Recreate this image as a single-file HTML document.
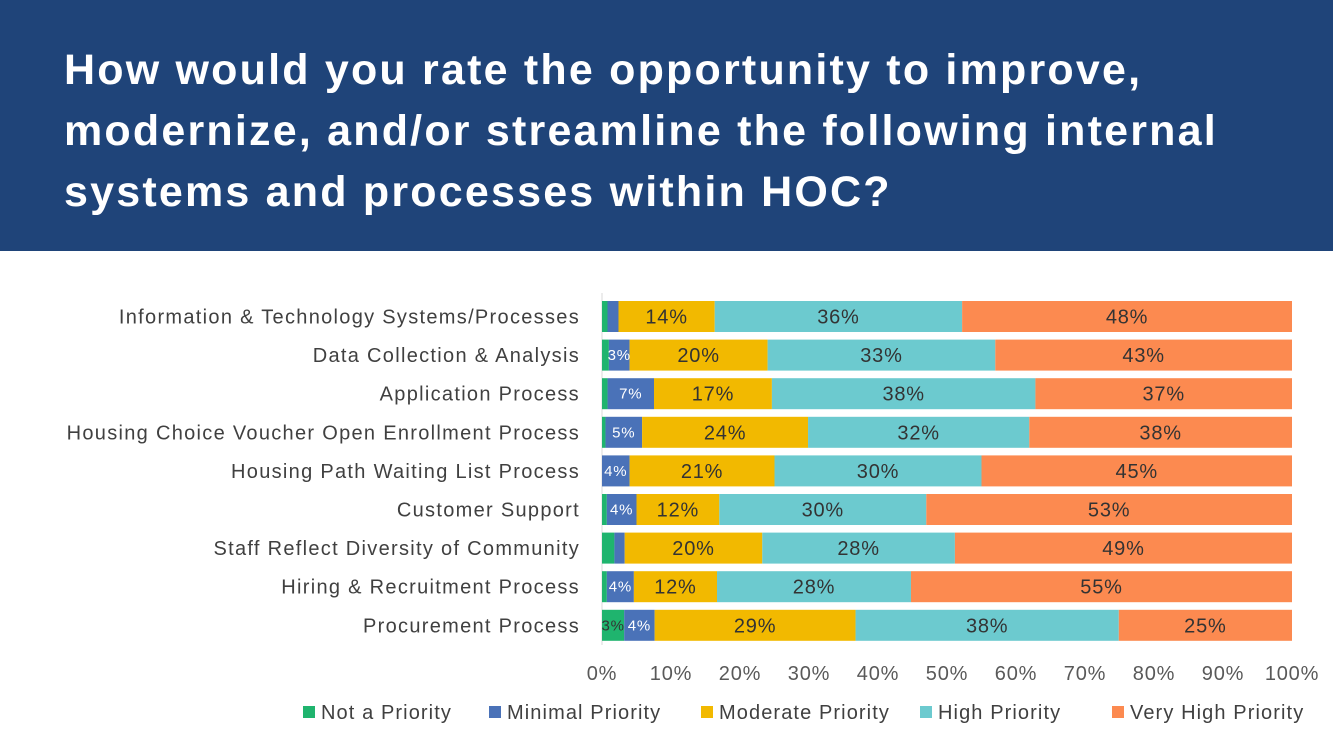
<!DOCTYPE html>
<html><head><meta charset="utf-8">
<style>
body{margin:0;width:1333px;height:750px;background:#fff;overflow:hidden;font-family:"Liberation Sans",sans-serif;}
#banner{position:absolute;left:0;top:0;width:1333px;height:251px;background:#1f4479;}
#title{position:absolute;left:64px;top:40px;color:#fff;font-size:43px;line-height:61px;letter-spacing:2.2px;font-weight:bold;margin:0;white-space:nowrap;}
svg{position:absolute;left:0;top:0;}
</style></head><body>
<div id="banner">
<h1 id="title">How would you rate the opportunity to improve,<br>modernize, and/or streamline the following internal<br>systems and processes within HOC?</h1>
</div>
<svg id="chart" width="1333" height="750"></svg>
<script>
const categories=["Information & Technology Systems/Processes","Data Collection & Analysis","Application Process","Housing Choice Voucher Open Enrollment Process","Housing Path Waiting List Process","Customer Support","Staff Reflect Diversity of Community","Hiring & Recruitment Process","Procurement Process"];
const seriesNames=["Not a Priority","Minimal Priority","Moderate Priority","High Priority","Very High Priority"];
const notPriority=[0.8,1,0.8,0.5,0,0.7,1.8,0.7,3.2];
const minimalPriority=[1.6,3,6.7,5.3,4,4.3,1.5,3.9,4.4];
const moderatePriority=[14,20,17,24,21,12,20,12,29];
const highPriority=[36,33,38,32,30,30,28,28,38];
const veryHighPriority=[48,43,37,38,45,53,49,55,25];
const labelsShown=[[null,null,"14%","36%","48%"],[null,"3%","20%","33%","43%"],[null,"7%","17%","38%","37%"],[null,"5%","24%","32%","38%"],[null,"4%","21%","30%","45%"],[null,"4%","12%","30%","53%"],[null,null,"20%","28%","49%"],[null,"4%","12%","28%","55%"],["3%","4%","29%","38%","25%"]];
const ticks=[0,10,20,30,40,50,60,70,80,90,100];
const colors=["#1fb46e","#4a72b8","#f2b900","#6ccacf","#fc8a50"];
const textColors=["#333","#fff","#333","#333","#333"];
const series=[notPriority,minimalPriority,moderatePriority,highPriority,veryHighPriority];
const NS="http://www.w3.org/2000/svg";
const svg=document.getElementById('chart');
const x0=602,x1=1292,yTop=301,step=38.6,bh=31;
const xs=v=>x0+(x1-x0)*v/100;
const rowY=i=>yTop+i*step;
function mk(t,a){const e=document.createElementNS(NS,t);for(const k in a)e.setAttribute(k,a[k]);svg.appendChild(e);return e;}
const ax=mk('line',{x1:x0,x2:x0,y1:293,y2:645,stroke:'#d9d9d9','stroke-width':1});


categories.forEach((c,i)=>{
  const y=rowY(i);
  const t=mk('text',{x:580,y:y+bh/2+7,'text-anchor':'end','font-size':20,fill:'#404040','letter-spacing':'1.3'});
  t.textContent=c;
  
  
  let total=0;series.forEach(s=>total+=s[i]);
  const f=100/total;
  let acc=0;
  series.forEach((s,k)=>{
    const v=s[i]*f;
    if(v>0){
      const r=mk('rect',{x:xs(acc),y:y,width:xs(acc+v)-xs(acc),height:bh,fill:colors[k]});
      
      
      const lab=labelsShown[i][k];
      if(lab){
        const fs=(k<2)?15:20;
        const tt=mk('text',{x:(xs(acc)+xs(acc+v))/2,y:y+bh/2+(k<2?5:7),'text-anchor':'middle','font-size':fs,fill:textColors[k],'letter-spacing':'0.8'});
        tt.textContent=lab;
        
        
      }
    }
    acc+=v;
  });
});
ticks.forEach(v=>{
  const t=mk('text',{x:xs(v),y:680,'text-anchor':'middle','font-size':20,fill:'#595959','letter-spacing':'0.8'});
  t.textContent=v+'%';
  
  
});
const legX=[303,489,701,920,1112];
seriesNames.forEach((n,k)=>{
  const r=mk('rect',{x:legX[k],y:706,width:12,height:12,fill:colors[k]});
  
  
  const t=mk('text',{x:legX[k]+18,y:719,'font-size':20,fill:'#404040','letter-spacing':'1.1'});
  t.textContent=n;
  
  
});
</script>
</body></html>
